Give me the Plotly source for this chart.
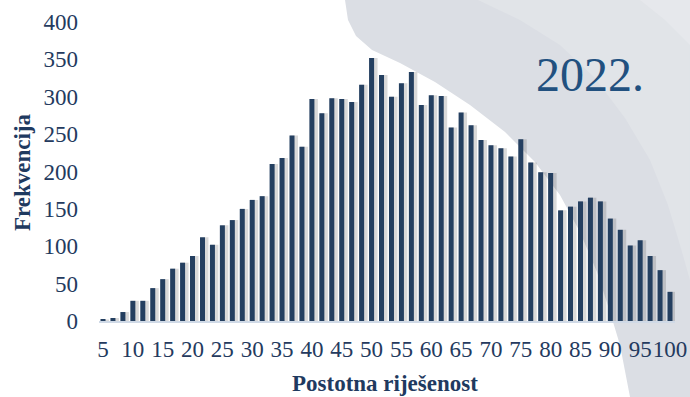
import plotly.graph_objects as go

# ---- data ----
bin_count = 58
categories = [5 + k * 5 / 3 for k in range(bin_count)]  # percent solved (step = 1 point of 60)
frequencies = [2, 4, 12, 27, 27, 44, 56, 70, 78, 87,
               112, 102, 128, 135, 150, 162, 167, 210, 218, 248,
               233, 297, 278, 298, 297, 293, 316, 352, 329, 300,
               318, 333, 289, 302, 301, 259, 279, 262, 242, 235,
               231, 220, 243, 212, 199, 198, 148, 153, 160, 165,
               160, 137, 122, 101, 108, 87, 68, 39]
tick_values = list(range(5, 101, 5))
tick_labels = [str(v) for v in tick_values]
y_ticks = list(range(0, 401, 50))

W, H = 690, 397
L, R, T, B = 99, 675, 22, 321  # plot area in pixels

FONT = "Liberation Serif, Times New Roman, serif"
BAR = "#243F60"
TXT = "#243A5E"


def px(x, y):
    return ((x - L) / (R - L), (B - y) / (B - T))


def path(points):
    s = ""
    for i, (x, y) in enumerate(points):
        a, b = px(x, y)
        s += ("M" if i == 0 else "L") + f"{a:.4f},{b:.4f} "
    return s + "Z"


swoosh = [(345, 0), (348, 20), (356, 36), (372, 50), (400, 63), (435, 82), (470, 105),
          (505, 132), (535, 162), (560, 195), (580, 232), (597, 272), (610, 312),
          (620, 345), (630, 397), (690, 397), (690, 0)]
band = [(478, 0), (520, 20), (560, 45), (595, 78), (625, 118), (650, 160), (668, 205),
        (680, 245), (690, 280), (690, 0)]
corner = [(640, 0), (665, 20), (690, 45), (690, 0)]

shapes = [
    dict(type="path", path=path(swoosh), xref="paper", yref="paper",
         fillcolor="#DBDEE4", line=dict(width=0), layer="below"),
    dict(type="path", path=path(band), xref="paper", yref="paper",
         fillcolor="#E1E4E8", line=dict(width=0), layer="below"),
    dict(type="path", path=path(corner), xref="paper", yref="paper",
         fillcolor="#E6E8EC", line=dict(width=0), layer="below"),
]

bw = 0.84
fig = go.Figure()
# soft shadow behind bars
fig.add_trace(go.Bar(x=categories, y=frequencies, width=1.3, offset=-bw / 2 + 0.12,
                     marker=dict(color="rgba(80,80,80,0.22)", line=dict(width=0)),
                     hoverinfo="skip", showlegend=False))
fig.add_trace(go.Bar(x=categories, y=frequencies, width=bw, offset=-bw / 2,
                     marker=dict(color=BAR, line=dict(width=0)), showlegend=False))

fig.update_layout(
    width=W, height=H,
    margin=dict(l=L, r=W - R, t=T, b=H - B, autoexpand=False),
    paper_bgcolor="white", plot_bgcolor="rgba(0,0,0,0)",
    barmode="overlay",
    font=dict(family=FONT, color=TXT),
    shapes=shapes,
    xaxis=dict(range=[5 - 4 / 5.968, 100 + 5 / 5.968], tickmode="array",
               tickvals=tick_values, ticktext=tick_labels, tickangle=0,
               tickfont=dict(size=23, family=FONT, color=TXT), automargin=False,
               showgrid=False, zeroline=False, showline=True,
               linecolor="#CFD9E6", linewidth=2, ticks="", ticklabelstandoff=6),
    yaxis=dict(range=[0, 400], tickmode="array", tickvals=y_ticks, automargin=False,
               tickfont=dict(size=23, family=FONT, color=TXT),
               showgrid=False, zeroline=False, showline=False, ticks="",
               ticklabelstandoff=20),
    annotations=[
        dict(text="<b>Frekvencija</b>", textangle=-90, x=px(22, 172)[0], y=px(22, 172)[1],
             xref="paper", yref="paper", xanchor="center", yanchor="middle",
             showarrow=False, font=dict(size=23, family=FONT, color="#1F3A60")),
        dict(text="<b>Postotna riješenost</b>", x=px(385, 383)[0], y=px(385, 383)[1],
             xref="paper", yref="paper", xanchor="center", yanchor="middle",
             showarrow=False, font=dict(size=23, family=FONT, color="#1F3A60")),
        dict(text="2022.", x=px(590, 74)[0], y=px(590, 74)[1],
             xref="paper", yref="paper", xanchor="center", yanchor="middle",
             showarrow=False, font=dict(size=48, family=FONT, color="#21507F")),
    ],
)

fig.write_html("out.html")
